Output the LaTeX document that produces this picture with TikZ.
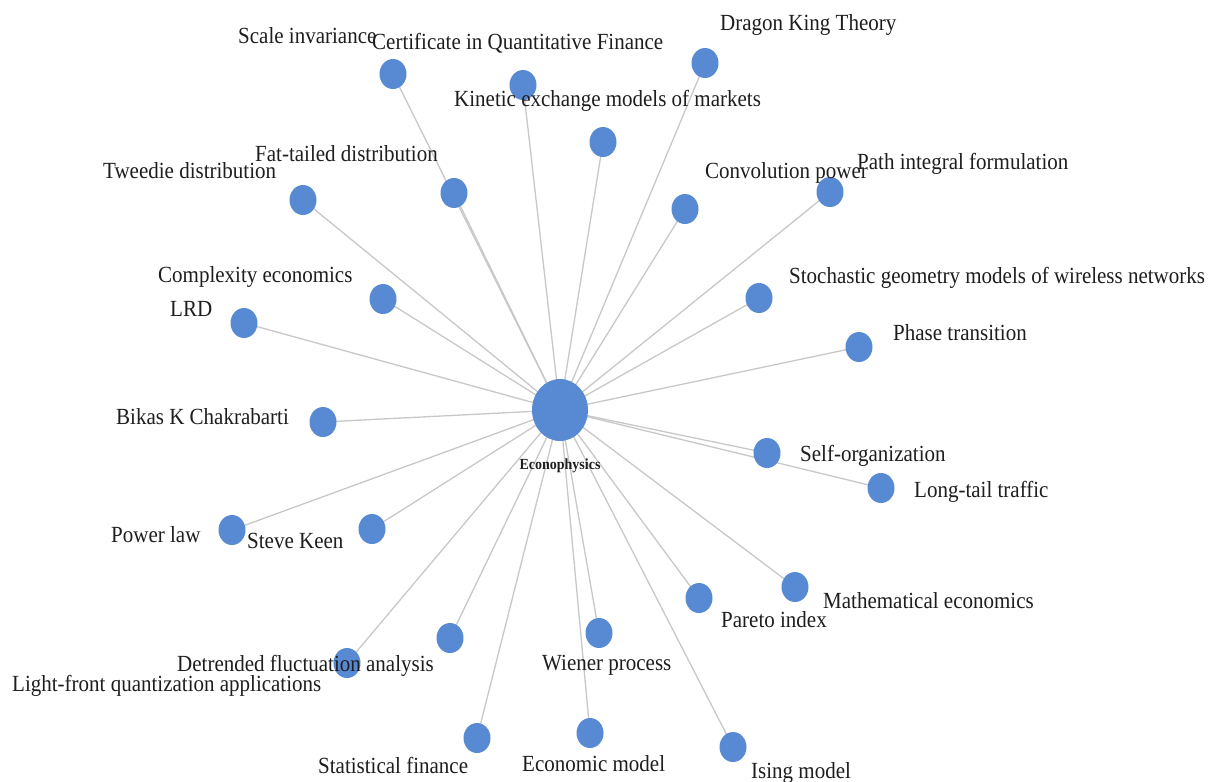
\documentclass[tikz,border=0pt]{standalone}
\usepackage{fontspec}
\setmainfont{Liberation Serif}
\usetikzlibrary{shapes.geometric}
\pgfdeclarelayer{background}
\pgfsetlayers{background,main}
\definecolor{nodeblue}{RGB}{88,138,212}
\definecolor{edgegray}{RGB}{200,200,200}
\definecolor{textdark}{RGB}{30,30,30}
\newcommand{\vs}[1]{\scalebox{1}[1.1]{#1}}
\tikzset{
  leaf/.style={ellipse,fill=nodeblue,draw=none,minimum width=27pt,minimum height=30pt,inner sep=0pt},
  hubnode/.style={ellipse,fill=nodeblue,draw=none,minimum width=56pt,minimum height=62pt,inner sep=0pt},
  lab/.style={anchor=base west,inner sep=0pt,text=textdark,font=\fontsize{21}{25}\selectfont},
  hublab/.style={anchor=base,inner sep=0pt,text=textdark,font=\fontsize{14}{16}\selectfont\bfseries},
  edge/.style={draw=edgegray,line width=1.3pt}
}
\begin{document}
\begin{tikzpicture}[x=1pt,y=-1pt]
\useasboundingbox (0,0) rectangle (1224,782);
% hub
\node[hubnode] (hub) at (560,410) {};
% leaf nodes
\node[leaf] (n1) at (393,74) {};
\node[leaf] (n2) at (523,85) {};
\node[leaf] (n3) at (603,142) {};
\node[leaf] (n4) at (705,63) {};
\node[leaf] (n5) at (685,209) {};
\node[leaf] (n6) at (830,192) {};
\node[leaf] (n7) at (759,298) {};
\node[leaf] (n8) at (859,347) {};
\node[leaf] (n9) at (767,453) {};
\node[leaf] (n10) at (881,488) {};
\node[leaf] (n11) at (795,587) {};
\node[leaf] (n12) at (699,598) {};
\node[leaf] (n13) at (733,747) {};
\node[leaf] (n14) at (590,733) {};
\node[leaf] (n15) at (599,633) {};
\node[leaf] (n16) at (477,738) {};
\node[leaf] (n17) at (450,638) {};
\node[leaf] (n18) at (347,663) {};
\node[leaf] (n19) at (372,529) {};
\node[leaf] (n20) at (232,530) {};
\node[leaf] (n21) at (323,422) {};
\node[leaf] (n22) at (244,323) {};
\node[leaf] (n23) at (383,299) {};
\node[leaf] (n24) at (303,200) {};
\node[leaf] (n25) at (454,193) {};
% white page and edges, behind the nodes
\begin{pgfonlayer}{background}
\fill[white] (0,0) rectangle (1224,782);
\foreach \i in {1,...,25} {
  \draw[edge] (hub.center) -- (n\i.center);
}
\end{pgfonlayer}
% labels
\node[lab] (t1) at (238,43) {\vs{Scale invariance}};
\node[lab] (t2) at (372,49) {\vs{Certificate in Quantitative Finance}};
\node[lab] (t3) at (454,106) {\vs{Kinetic exchange models of markets}};
\node[lab] (t4) at (720,30) {\vs{Dragon King Theory}};
\node[lab] (t5) at (705,178) {\vs{Convolution power}};
\node[lab] (t6) at (857,169) {\vs{Path integral formulation}};
\node[lab] (t7) at (789,283) {\vs{Stochastic geometry models of wireless networks}};
\node[lab] (t8) at (893,340) {\vs{Phase transition}};
\node[lab] (t9) at (800,461) {\vs{Self-organization}};
\node[lab] (t10) at (914,497) {\vs{Long-tail traffic}};
\node[lab] (t11) at (823,608) {\vs{Mathematical economics}};
\node[lab] (t12) at (721,627) {\vs{Pareto index}};
\node[lab] (t13) at (751,778) {\vs{Ising model}};
\node[lab] (t14) at (522,771) {\vs{Economic model}};
\node[lab] (t15) at (542,670) {\vs{Wiener process}};
\node[lab] (t16) at (318,773) {\vs{Statistical finance}};
\node[lab] (t17) at (177,671) {\vs{Detrended fluctuation analysis}};
\node[lab] (t18) at (12,691) {\vs{Light-front quantization applications}};
\node[lab] (t19) at (247,548) {\vs{Steve Keen}};
\node[lab] (t20) at (111,542) {\vs{Power law}};
\node[lab] (t21) at (116,424) {\vs{Bikas K Chakrabarti}};
\node[lab] (t22) at (170,316) {\vs{LRD}};
\node[lab] (t23) at (158,282) {\vs{Complexity economics}};
\node[lab] (t24) at (103,178) {\vs{Tweedie distribution}};
\node[lab] (t25) at (255,161) {\vs{Fat-tailed distribution}};
\node[hublab] (thub) at (560,469) {\vs{Econophysics}};
\end{tikzpicture}
\end{document}
